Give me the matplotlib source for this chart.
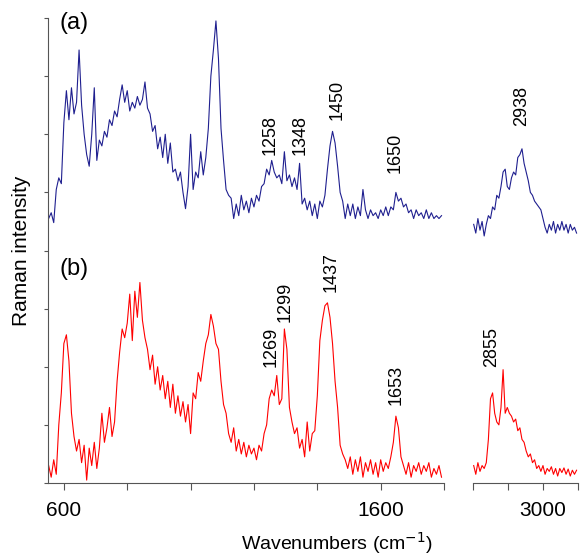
import numpy as np
import matplotlib.pyplot as plt

plt.rcParams['font.family'] = ['Liberation Sans', 'DejaVu Sans']

# wavenumber grids (cm^-1)
wn_low_start, wn_low_step = 552, 8
wn_high_start, wn_high_step = 2802, 6

# spectrum (a), fingerprint region 552-1792
spec_a_low = [4.55, 4.65, 4.48, 5.05, 5.25, 5.15, 6.20, 6.75, 6.25, 6.80,
              6.35, 6.55, 7.45, 6.50, 6.00, 5.65, 5.45, 6.00, 6.80, 5.55,
              5.90, 5.80, 6.05, 5.95, 6.25, 6.15, 6.40, 6.30, 6.60, 6.85,
              6.55, 6.75, 6.40, 6.55, 6.45, 6.65, 6.50, 6.60, 6.90, 6.45,
              6.35, 6.05, 6.15, 5.75, 5.95, 5.60, 6.00, 5.50, 5.85, 5.35,
              5.40, 5.20, 5.35, 5.00, 4.72, 5.10, 6.00, 5.05, 5.35, 5.25,
              5.70, 5.30, 5.60, 6.10, 7.00, 7.45, 7.95, 7.30, 6.10, 5.55,
              5.05, 4.95, 4.90, 4.55, 4.80, 4.60, 4.95, 4.70, 4.85, 4.65,
              4.90, 4.75, 4.95, 4.85, 5.10, 5.15, 5.40, 5.30, 5.55, 5.35,
              5.25, 5.30, 5.15, 5.70, 5.20, 5.30, 5.10, 5.25, 5.05, 5.50,
              4.80, 4.90, 4.70, 4.85, 4.60, 4.80, 4.55, 4.85, 4.75, 4.95,
              5.40, 5.80, 6.05, 5.85, 5.45, 5.00, 4.85, 4.55, 4.80, 4.60,
              4.80, 4.55, 4.75, 4.60, 5.05, 4.70, 4.55, 4.70, 4.60, 4.65,
              4.55, 4.70, 4.60, 4.75, 4.60, 4.75, 4.70, 5.00, 4.85, 4.90,
              4.75, 4.80, 4.65, 4.70, 4.55, 4.70, 4.60, 4.65, 4.55, 4.70,
              4.55, 4.65, 4.55, 4.60, 4.55, 4.60]

# spectrum (b), fingerprint region 552-1792
spec_b_low = [0.30, 0.10, 0.40, 0.15, 1.00, 1.55, 2.40, 2.55, 2.10, 1.20,
              0.80, 0.55, 0.75, 0.35, 0.65, 0.05, 0.60, 0.30, 0.70, 0.25,
              0.60, 1.20, 0.70, 0.95, 1.30, 0.80, 1.05, 1.75, 2.25, 2.65,
              2.50, 2.75, 3.25, 2.45, 3.30, 2.85, 3.45, 2.80, 2.50, 2.30,
              1.95, 2.20, 1.70, 2.00, 1.60, 1.85, 1.45, 1.75, 1.30, 1.70,
              1.20, 1.50, 1.15, 1.40, 1.05, 1.35, 0.85, 1.55, 1.45, 1.90,
              1.75, 2.10, 2.40, 2.55, 2.90, 2.70, 2.40, 2.30, 1.75, 1.35,
              1.20, 0.85, 0.70, 0.95, 0.55, 0.75, 0.50, 0.70, 0.45, 0.65,
              0.50, 0.60, 0.40, 0.65, 0.55, 0.85, 1.00, 1.45, 1.60, 1.50,
              1.85, 1.35, 1.45, 2.65, 2.30, 1.30, 1.05, 0.85, 0.95, 0.60,
              0.75, 0.45, 1.05, 0.55, 0.85, 0.90, 1.50, 2.45, 2.80, 3.05,
              3.10, 2.85, 2.40, 1.75, 1.30, 0.65, 0.50, 0.40, 0.25, 0.45,
              0.15, 0.40, 0.20, 0.45, 0.10, 0.35, 0.20, 0.40, 0.15, 0.35,
              0.10, 0.40, 0.20, 0.35, 0.25, 0.45, 0.70, 1.15, 0.95, 0.45,
              0.30, 0.15, 0.35, 0.10, 0.30, 0.20, 0.35, 0.15, 0.30, 0.20,
              0.35, 0.10, 0.25, 0.15, 0.30, 0.10]

# CH stretching region 2802-3096
spec_a_high = [4.45, 4.30, 4.55, 4.35, 4.50, 4.25, 4.45, 4.60, 4.55, 4.75,
               4.70, 4.95, 4.90, 5.10, 5.35, 5.40, 5.10, 5.05, 5.25, 5.35,
               5.30, 5.60, 5.65, 5.75, 5.50, 5.35, 5.20, 5.00, 4.95, 4.85,
               4.80, 4.75, 4.70, 4.55, 4.40, 4.30, 4.45, 4.35, 4.50, 4.30,
               4.45, 4.35, 4.50, 4.35, 4.45, 4.30, 4.45, 4.35, 4.40, 4.30]

spec_b_high = [0.30, 0.15, 0.35, 0.20, 0.30, 0.25, 0.35, 0.75, 1.45, 1.55,
               1.20, 1.05, 1.00, 1.30, 1.95, 1.20, 1.30, 1.20, 1.15, 1.05,
               1.10, 0.90, 0.95, 0.75, 0.70, 0.55, 0.45, 0.50, 0.35, 0.40,
               0.25, 0.30, 0.20, 0.30, 0.15, 0.25, 0.20, 0.28, 0.15, 0.25,
               0.12, 0.25, 0.18, 0.26, 0.15, 0.24, 0.12, 0.22, 0.15, 0.22]

# peak labels: (text, x, y of label bottom)
peaks_a_low = [('1258', 1252, 5.65), ('1348', 1346, 5.65), ('1450', 1462, 6.25), ('1650', 1647, 5.34)]
peaks_a_high = [('2938', 2940, 6.14)]
peaks_b_low = [('1269', 1255, 2.0), ('1299', 1299, 2.77), ('1437', 1443, 3.29), ('1653', 1650, 1.34)]
peaks_b_high = [('2855', 2854, 2.0)]

wn_low = wn_low_start + wn_low_step * np.arange(len(spec_a_low))
wn_high = wn_high_start + wn_high_step * np.arange(len(spec_a_high))

col_a = '#1f1f8f'
col_b = '#ff0000'
spine_col = '#555555'

fig = plt.figure(figsize=(5.8, 5.58), dpi=100)
ax1 = fig.add_axes([0.0828, 0.1344, 0.6828, 0.8333])
ax2 = fig.add_axes([0.8155, 0.1344, 0.181, 0.8333])

ax1.plot(wn_low, spec_a_low, color=col_a, lw=0.8)
ax1.plot(wn_low, spec_b_low, color=col_b, lw=0.8)
ax2.plot(wn_high, spec_a_high, color=col_a, lw=0.8)
ax2.plot(wn_high, spec_b_high, color=col_b, lw=0.8)

for lab, x, y in peaks_a_low + peaks_b_low:
    ax1.text(x, y, lab, rotation=90, ha='center', va='bottom', fontsize=13)
for lab, x, y in peaks_a_high + peaks_b_high:
    ax2.text(x, y, lab, rotation=90, ha='center', va='bottom', fontsize=13)

ax1.set_xlim(550, 1800)
ax1.set_ylim(0, 8)
ax1.set_xticks(range(600, 1801, 200))
ax1.set_xticklabels(['600', '', '', '', '', '1600', ''])
ax1.set_yticks(range(0, 9))
ax1.set_yticklabels([])
ax1.set_ylabel('Raman intensity', fontsize=15, labelpad=6)

ax2.set_xlim(2800, 3100)
ax2.set_ylim(0, 8)
ax2.set_xticks([2800, 2900, 3000, 3100])
ax2.set_xticklabels(['', '', '3000', ''])
ax2.set_yticks([])

for ax in [ax1, ax2]:
    ax.spines['top'].set_visible(False)
    ax.spines['right'].set_visible(False)
    for s in ax.spines.values():
        s.set_color(spine_col)
    ax.tick_params(axis='x', length=5, color=spine_col, labelsize=15, pad=8)
    ax.tick_params(axis='y', length=3, color=spine_col)
ax2.spines['left'].set_visible(False)

ax1.text(0.03, 0.99, '(a)', transform=ax1.transAxes, fontsize=17, va='center')
ax1.text(0.03, 0.46, '(b)', transform=ax1.transAxes, fontsize=17, va='center')

fig.text(0.581, 0.027, 'Wavenumbers (cm$^{-1}$)', ha='center', va='center', fontsize=14)

plt.savefig('out.png', dpi=100)
